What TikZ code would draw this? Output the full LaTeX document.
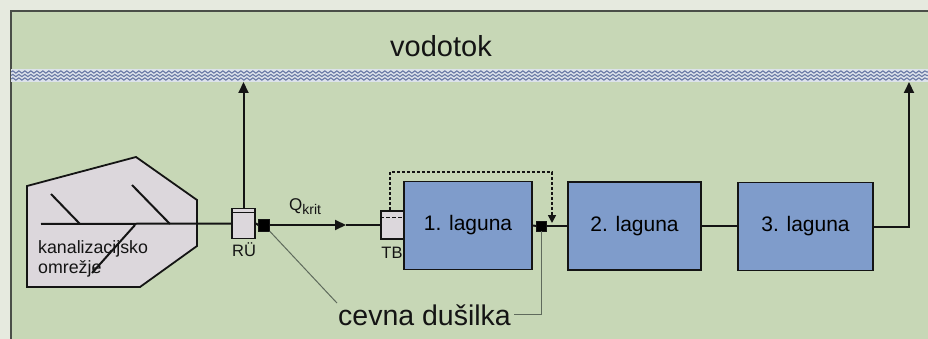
\documentclass[tikz,border=0pt]{standalone}
\usepackage{fontspec}
\setmainfont{Liberation Sans}
\usetikzlibrary{arrows.meta,decorations.pathmorphing}
\definecolor{outerbg}{HTML}{E6EADF}
\definecolor{panel}{HTML}{C7D7B6}
\definecolor{lagfill}{HTML}{7F9CCB}
\definecolor{grayfill}{HTML}{DCD7DC}
\definecolor{ink}{HTML}{141414}
\definecolor{framec}{HTML}{4A4E48}
\definecolor{wavec}{HTML}{6A7AA6}
\definecolor{wavebg}{HTML}{DCE2EA}
\definecolor{leader}{HTML}{5F6A5C}
\newcommand{\fsz}[1]{\fontsize{#1}{#1}\selectfont}
\tikzset{
  lagbox/.style={draw=ink, line width=1.9pt, fill=lagfill, inner sep=0pt, font=\fsz{21}},
  smallbox/.style={draw=ink, line width=1.7pt, fill=grayfill, inner sep=0pt},
  blacksq/.style={draw=ink, fill=black, inner sep=0pt},
  conn/.style={draw=ink, line width=2pt},
  arr/.style={conn, -{Triangle[length=11pt,width=10pt]}},
  wave/.style={draw=wavec, line width=1.1pt, decorate, decoration={snake, segment length=6pt, amplitude=1.1pt}},
  lbl/.style={inner sep=0pt, text=ink},
  leaderline/.style={draw=leader, line width=1pt}
}
\begin{document}
\begin{tikzpicture}[x=1pt,y=-1pt]
\useasboundingbox (0,0) rectangle (928,339);
% background
\fill[outerbg] (0,0) rectangle (928,339);
\fill[panel] (11,11) rectangle (928,339);
\draw[framec, line width=1.4pt] (11,339) -- (11,11) -- (928,11);
% watercourse
\fill[wavebg] (11,69) rectangle (928,82);
\draw[wave] (11,72) -- (928,72);
\draw[wave] (11,75.5) -- (928,75.5);
\draw[wave] (11,79) -- (928,79);
\node[lbl, font=\fsz{29}, anchor=base] (vodotok) at (441,57) {vodotok};
% sewer network
\draw[fill=grayfill, draw=ink, line width=1.8pt]
  (27,186) -- (136,157) -- (197,200) -- (197,246) -- (140,287) -- (27,287) -- cycle;
\draw[conn] (51,194) -- (80,224);
\draw[conn] (132,185) -- (170,224);
\draw[conn] (135,225) -- (92,273);
\node[lbl, font=\fsz{17.8}, anchor=base west] (kan) at (38,253) {kanalizacijsko};
\node[lbl, font=\fsz{17.8}, anchor=base west] (omr) at (38,273) {omrežje};
% nodes
\node[smallbox, minimum width=23pt, minimum height=30pt] (ru) at (243.5,223.5) {};
\draw[ink, line width=1.3pt] ([yshift=-5pt]ru.north west) -- ([yshift=-5pt]ru.north east);
\node[lbl, font=\fsz{16.5}, anchor=base] (rulbl) at (244,256) {RÜ};
\node[blacksq, minimum width=11pt, minimum height=12pt] (sq1) at (264,225) {};
\node[smallbox, minimum width=23pt, minimum height=28pt] (tb) at (392.5,225) {};
\draw[ink, line width=1.3pt, dash pattern=on 4pt off 2pt] ([yshift=-7pt]tb.north west) -- ([yshift=-7pt]tb.north east);
\node[lbl, font=\fsz{16.5}, anchor=base] (tblbl) at (392,258) {TB};
\node[lagbox, minimum width=128pt, minimum height=88pt] (l1) at (468,225.5) {1. laguna};
\node[blacksq, minimum width=10pt, minimum height=10pt] (sq2) at (541.5,226) {};
\node[lagbox, minimum width=133pt, minimum height=88pt] (l2) at (634.5,226) {2. laguna};
\node[lagbox, minimum width=135pt, minimum height=88pt] (l3) at (805.5,226.5) {3. laguna};
% labels
\node[lbl, font=\fsz{17}, anchor=base west] (q) at (289,210) {Q\raisebox{-5pt}{\fsz{14}krit}};
\node[inner sep=1pt, text=ink, font=\fsz{28.5}, anchor=base west] (cevna) at (337,325) {cevna dušilka};
% connectors
\coordinate (src) at (41,224);
\coordinate (wL) at (243.5,82);
\coordinate (wR) at (909,82);
\coordinate (mid) at (346,225);
\coordinate (dtop) at (552,172);
\coordinate (dtip) at (552,223);
\draw[conn] (src) -- (ru.west);
\draw[arr] (ru.north) -- (wL);
\draw[conn] (ru.east) -- (sq1.west);
\draw[arr] (sq1.east) -- (mid);
\draw[conn] (mid) -- (tb.west);
\draw[conn] (l1.east) -- (sq2.west);
\draw[conn] (sq2.east) -- (l2.west);
\draw[conn] (l2.east) -- (l3.west |- l2.east);
\draw[arr] (l3.east) -| (wR);
\draw[conn, line width=1.6pt, dash pattern=on 3pt off 2pt, -{Triangle[length=8pt,width=8pt]}]
  ([xshift=-2.5pt]tb.north) |- (dtop) -- (dtip);
\draw[leaderline] (sq1.south east) -- (cevna.north west);
\draw[leaderline] (sq2.south) |- ([xshift=2pt]cevna.east);
\end{tikzpicture}
\end{document}
